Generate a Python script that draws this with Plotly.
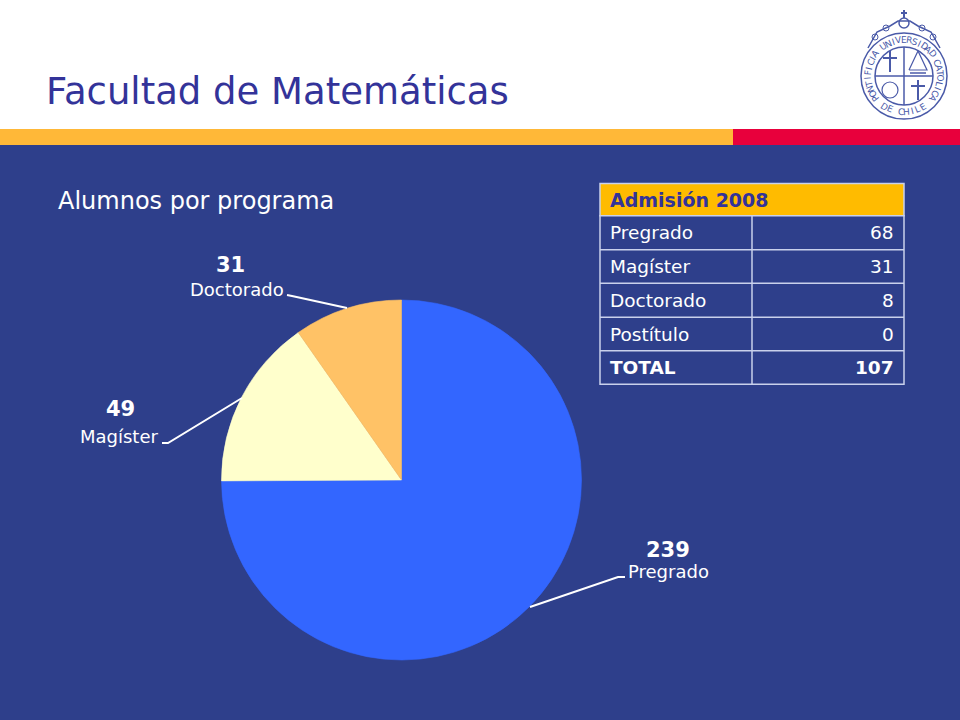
import math
import plotly.graph_objects as go

# datos del grafico
programas = ["Pregrado", "Magíster", "Doctorado"]
alumnos = [239, 49, 31]
colores = ["#3366FF", "#FFFFCC", "#FFC266"]

# tabla de admision
titulo_tabla = "Admisión 2008"
filas = ["Pregrado", "Magíster", "Doctorado", "Postítulo", "<b>TOTAL</b>"]
admision = ["68", "31", "8", "0", "<b>107</b>"]

W, H = 960, 720
FONDO = "#2E3F8B"
AZUL = "#333399"
BORDE = "#C9D1EC"
SELLO = "#4A5AA8"
FUENTE = "DejaVu Sans"


def px(x):
    return x / W


def py(y):
    return 1 - y / H


fig = go.Figure()

# torta
fig.add_trace(go.Pie(
    labels=programas, values=alumnos, sort=False, direction="clockwise", rotation=0,
    marker=dict(colors=colores, line=dict(color=colores, width=0.6)),
    textinfo="none", hoverinfo="skip", showlegend=False,
    domain=dict(x=[px(221.5), px(581.5)], y=[py(660), py(300)]),
))


def rect(x0, y0, x1, y1, color, layer="below", borde=None):
    return dict(type="rect", xref="paper", yref="paper", layer=layer,
                x0=px(x0), x1=px(x1), y0=py(y0), y1=py(y1), fillcolor=color,
                line=dict(color=borde, width=1.5) if borde else dict(width=0))


def polilinea(puntos, color="white", ancho=2):
    d = "M " + " L ".join(f"{px(x):.5f},{py(y):.5f}" for x, y in puntos)
    return dict(type="path", xref="paper", yref="paper", path=d,
                line=dict(color=color, width=ancho))


def circulo(cx, cy, r, color=SELLO, ancho=1.2):
    return dict(type="circle", xref="paper", yref="paper",
                x0=px(cx - r), x1=px(cx + r), y0=py(cy + r), y1=py(cy - r),
                line=dict(color=color, width=ancho))


def texto(x, y, t, size, color="white", anchor="center", angulo=0):
    return dict(x=px(x), y=py(y), xref="paper", yref="paper", text=t, showarrow=False,
                xanchor=anchor, yanchor="middle", textangle=angulo,
                font=dict(family=FUENTE, size=size, color=color))


shapes = [
    rect(0, 145, 960, 720, FONDO),
    rect(0, 129, 733, 145, "#FFB838"),
    rect(733, 129, 960, 145, "#E8003C"),
    # lineas guia
    polilinea([(287, 295), (292, 296), (347, 308)]),
    polilinea([(162, 443), (168, 443), (242, 398)]),
    polilinea([(530, 607), (618, 577), (625, 577)]),
]

annotations = [
    texto(44, 91, "Facultad de Matemáticas", 37, AZUL, "left"),
    texto(56, 201, "Alumnos por programa", 24, "white", "left"),
    texto(230, 265, "<b>31</b>", 21),
    texto(237, 289, "Doctorado", 18),
    texto(120, 409, "<b>49</b>", 21),
    texto(119, 437, "Magíster", 18),
    texto(668, 550, "<b>239</b>", 21),
    texto(668, 571, "Pregrado", 18),
]

# tabla: cabecera y filas
T_IZQ, T_MED, T_DER = 600, 752, 904
bordes_y = [183.5, 215.7, 249.7, 283.3, 317.3, 350.7, 384.3]
shapes.append(rect(T_IZQ, bordes_y[0], T_DER, bordes_y[1], "#FFBB00", "below", BORDE))
shapes.append(rect(T_IZQ, bordes_y[1], T_DER, bordes_y[-1], FONDO, "below", BORDE))
for y in bordes_y[2:-1]:
    shapes.append(polilinea([(T_IZQ, y), (T_DER, y)], BORDE, 1.5))
shapes.append(polilinea([(T_MED, bordes_y[1]), (T_MED, bordes_y[-1])], BORDE, 1.5))
annotations.append(texto(608, 200, f"<b>{titulo_tabla}</b>", 19, AZUL, "left"))
for i, (fila, valor) in enumerate(zip(filas, admision)):
    yc = (bordes_y[i + 1] + bordes_y[i + 2]) / 2
    annotations.append(texto(608, yc, fila, 18.5, "white", "left"))
    annotations.append(texto(896, yc, valor, 18.5, "white", "right"))

# sello de la universidad
CX, CY = 904, 76
shapes += [circulo(CX, CY, 43, SELLO, 1.5), circulo(CX, CY, 29, SELLO, 1.5)]
shapes += [
    polilinea([(CX - 29, CY), (CX + 29, CY)], SELLO, 1.5),
    polilinea([(CX, CY - 29), (CX, CY + 29)], SELLO, 1.5),
    # cruces
    polilinea([(CX - 14, CY - 25), (CX - 14, CY - 4)], SELLO, 2),
    polilinea([(CX - 21, CY - 18), (CX - 7, CY - 18)], SELLO, 2),
    polilinea([(CX + 14, CY + 4), (CX + 14, CY + 24)], SELLO, 2),
    polilinea([(CX + 7, CY + 10), (CX + 21, CY + 10)], SELLO, 2),
    # triangulo y templo
    polilinea([(CX + 5, CY - 6), (CX + 14, CY - 25), (CX + 23, CY - 6), (CX + 5, CY - 6)], SELLO, 1.2),
    polilinea([(CX + 6, CY - 3), (CX + 22, CY - 3)], SELLO, 1.5),
    # corona
    polilinea([(CX - 36, CY - 28), (CX - 27, CY - 44), (CX - 14, CY - 50), (CX - 6, CY - 55),
               (CX + 6, CY - 55), (CX + 14, CY - 50), (CX + 27, CY - 44), (CX + 36, CY - 28)], SELLO, 1.5),
    polilinea([(CX, CY - 58), (CX, CY - 66)], SELLO, 2),
    polilinea([(CX - 3, CY - 63), (CX + 3, CY - 63)], SELLO, 2),
    circulo(CX, CY - 53, 5, SELLO, 1.5),
    circulo(CX - 14, CY + 14, 8, SELLO, 1.2),
    circulo(CX - 18, CY - 48, 3, SELLO, 1),
    circulo(CX + 18, CY - 48, 3, SELLO, 1),
    circulo(CX - 29, CY - 39, 3, SELLO, 1),
    circulo(CX + 29, CY - 39, 3, SELLO, 1),
]

# letras del sello, una por una sobre el anillo
arriba = "PONTIFICIA UNIVERSIDAD CATOLICA"
abajo = "DE CHILE"
for i, letra in enumerate(arriba):
    ang = -128 + 256 * i / (len(arriba) - 1)
    rad = math.radians(ang)
    annotations.append(texto(CX + 36 * math.sin(rad), CY - 36 * math.cos(rad), letra, 9, SELLO, "center", ang))
for i, letra in enumerate(abajo):
    ang = -32 + 64 * i / (len(abajo) - 1)
    rad = math.radians(ang)
    annotations.append(texto(CX + 36 * math.sin(rad), CY + 36 * math.cos(rad), letra, 9, SELLO, "center", -ang))

fig.update_layout(
    width=W, height=H, margin=dict(l=0, r=0, t=0, b=0),
    paper_bgcolor="white", plot_bgcolor="white",
    shapes=shapes, annotations=annotations,
)

fig.write_html("out.html", config={"displayModeBar": False},
               post_script="document.body.style.margin='0';")
